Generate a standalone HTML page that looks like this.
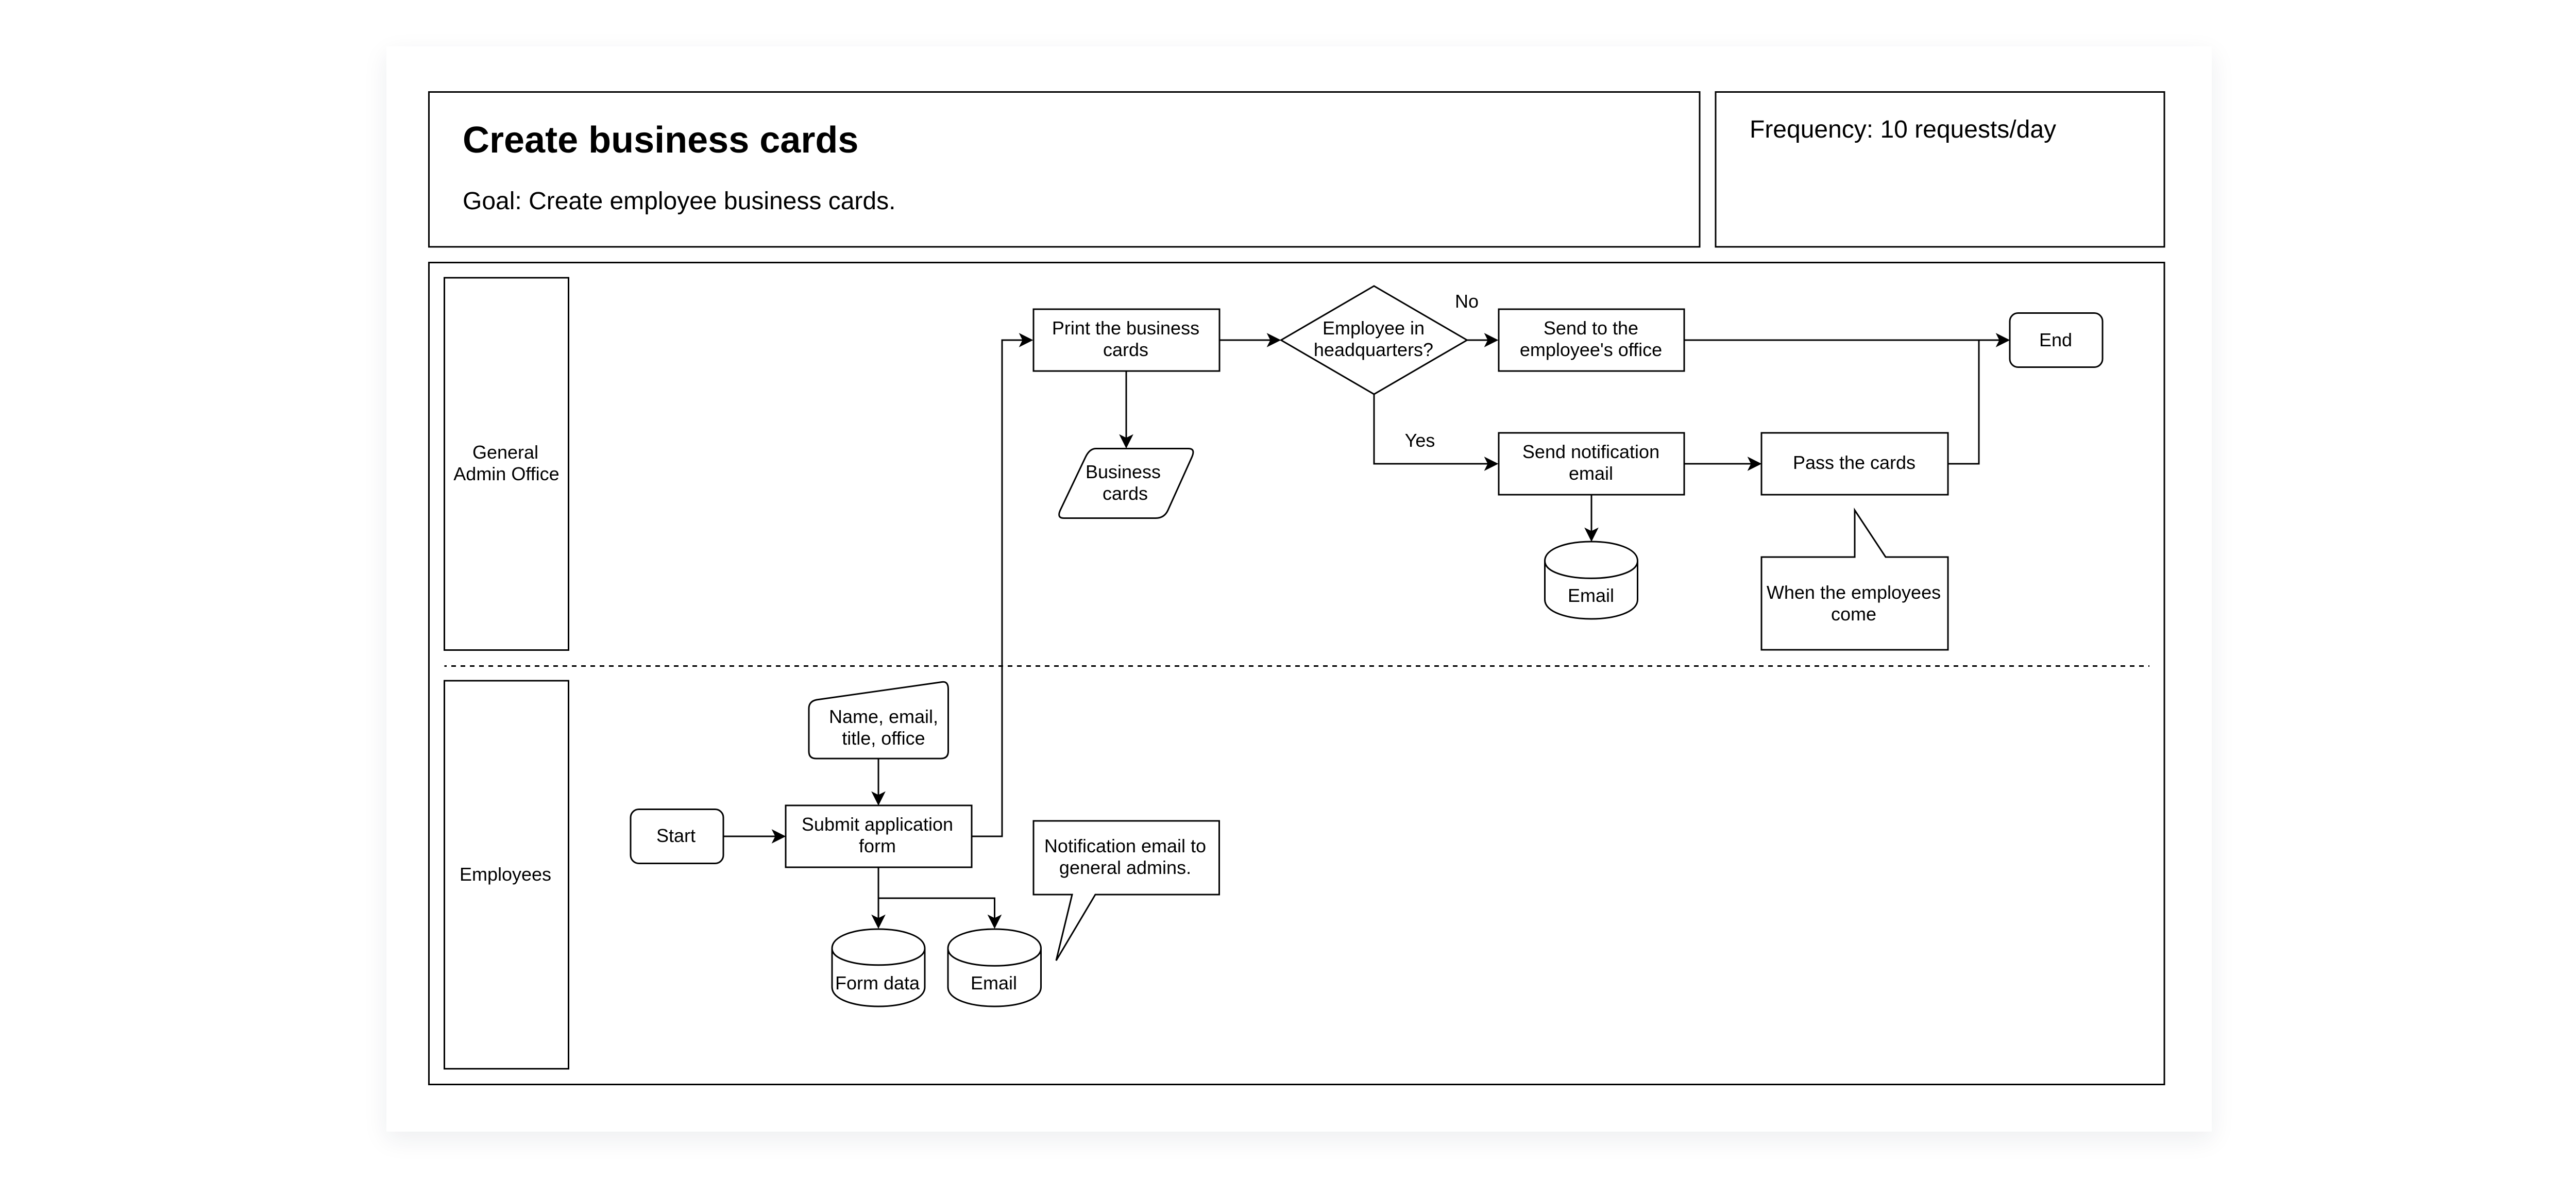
<!DOCTYPE html>
<html><head><meta charset="utf-8"><style>
html,body{margin:0;padding:0;background:#fff;width:5040px;height:2286px;overflow:hidden}
#card{position:absolute;left:750px;top:90px;width:3543px;height:2106px;background:#fff;box-shadow:0 15px 45px rgba(30,40,60,.08)}
svg{position:absolute;left:0;top:0}
text{font-family:"Liberation Sans",Arial,sans-serif;font-size:36px;fill:#000;text-anchor:middle}
.s{fill:#fff;stroke:#000;stroke-width:3}
.l{fill:none;stroke:#000;stroke-width:3}
.a{fill:#000;stroke:#000;stroke-width:3}
</style></head><body>
<div id="card"></div>
<svg width="5040" height="2286" viewBox="0 0 5040 2286">
<rect class="s" x="832.5" y="178.5" width="2466.5" height="300.5"/>
<rect class="s" x="3330" y="178.5" width="871" height="300.5"/>
<rect class="s" x="832.5" y="509.5" width="3368.5" height="1595"/>
<rect class="s" x="862.5" y="539" width="241" height="722.5"/>
<rect class="s" x="862.5" y="1321" width="241" height="753"/>
<path class="l" d="M862.5 1292.5H4172" stroke-dasharray="9 9" stroke-dashoffset="4.5"/>

<!-- connectors -->
<path class="l" d="M1404 1623H1522"/>
<path class="l" d="M1705 1473V1560"/>
<path class="l" d="M1885.500 1623H1945V660H2002"/>
<path class="l" d="M1705 1683V1799"/>
<path class="l" d="M1705 1743H1930.5V1799"/>
<path class="l" d="M2186 720V867"/>
<path class="l" d="M2367 660H2483"/>
<path class="l" d="M2847 660H2905"/>
<path class="l" d="M2667 765V900H2905"/>
<path class="l" d="M3269 660H3898"/>
<path class="l" d="M3269 900H3416"/>
<path class="l" d="M3089 960V1048"/>
<path class="l" d="M3781 900H3841V660"/>
<!-- arrowheads -->
<path class="a" d="M1522 1623l-21 10.500 5.250-10.500-5.250-10.500z"/>
<path class="a" d="M1705 1560l-10.500-21 10.500 5.250 10.500-5.250z"/>
<path class="a" d="M2002 660l-21 10.500 5.250-10.500-5.250-10.500z"/>
<path class="a" d="M1705 1799l-10.500-21 10.500 5.250 10.500-5.250z"/>
<path class="a" d="M1930.500 1799l-10.500-21 10.500 5.250 10.500-5.250z"/>
<path class="a" d="M2186 867l-10.500-21 10.500 5.250 10.500-5.250z"/>
<path class="a" d="M2483 660l-21 10.500 5.250-10.500-5.250-10.500z"/>
<path class="a" d="M2905 660l-21 10.500 5.250-10.500-5.250-10.500z"/>
<path class="a" d="M2905 900l-21 10.500 5.250-10.500-5.250-10.500z"/>
<path class="a" d="M3898 660l-21 10.500 5.250-10.500-5.250-10.500z"/>
<path class="a" d="M3416 900l-21 10.500 5.250-10.500-5.250-10.500z"/>
<path class="a" d="M3089 1048l-10.500-21 10.500 5.250 10.500-5.250z"/>

<!-- nodes -->
<rect class="s" x="2006" y="600" width="361" height="120"/>
<path class="s" d="M2667 555L2847.500 660L2667 765L2486.500 660Z"/>
<rect class="s" x="2909" y="600" width="360" height="120"/>
<rect class="s" x="2909" y="840" width="360" height="120"/>
<rect class="s" x="3419" y="840" width="362" height="120"/>
<rect class="s" x="3901" y="607.500" width="180" height="105" rx="16"/>
<rect class="s" x="1224" y="1570.500" width="180" height="105" rx="16"/>
<rect class="s" x="1525" y="1563" width="361" height="120"/>
<path class="s" d="M2127 870.500H2307Q2321 870.500 2313 888L2267 990Q2260 1005.500 2243 1005.500H2065Q2051 1005.500 2058 990L2107 887Q2115 870.500 2127 870.500Z"/>
<path class="s" d="M1570 1375Q1570 1361 1585 1358L1828 1323.500Q1840.500 1321.500 1840.500 1337V1458Q1840.500 1472 1826 1472H1584Q1570 1472 1570 1458Z"/>
<path class="s" d="M2998.500 1088.500C2998.500 1038.500 3178.500 1038.500 3178.500 1088.500V1163.500C3178.500 1213.500 2998.500 1213.500 2998.500 1163.500Z"/>
<path class="l" d="M2998.500 1088.500C2998.500 1133.500 3178.500 1133.500 3178.500 1088.500"/>
<path class="s" d="M1615 1840.500C1615 1790.500 1795 1790.500 1795 1840.500V1915.500C1795 1965.500 1615 1965.500 1615 1915.500Z"/>
<path class="l" d="M1615 1840.500C1615 1883.500 1795 1883.500 1795 1840.500"/>
<path class="s" d="M1840 1840.500C1840 1790.500 2020.500 1790.500 2020.500 1840.500V1915.500C2020.500 1965.500 1840 1965.500 1840 1915.500Z"/>
<path class="l" d="M1840 1840.500C1840 1885.500 2020.500 1885.500 2020.500 1840.500"/>
<path class="s" d="M3419 1081H3600V990L3660 1081H3781V1261H3419Z"/>
<path class="s" d="M2006 1593H2366.500V1736H2126L2050 1864L2081 1736H2006Z"/>

<!-- text -->
<text x="898" y="296" style="font-size:72px;font-weight:bold;text-anchor:start">Create business cards</text>
<text x="898" y="406" style="font-size:48px;text-anchor:start">Goal: Create employee business cards.</text>
<text x="3396" y="267" style="font-size:48px;text-anchor:start">Frequency: 10 requests/day</text>
<text x="981" y="890">General</text>
<text x="983" y="932">Admin Office</text>
<text x="981" y="1709">Employees</text>
<text x="2185" y="649">Print the business</text>
<text x="2185" y="691">cards</text>
<text x="2666" y="649">Employee in</text>
<text x="2666" y="691">headquarters?</text>
<text x="3088" y="649">Send to the</text>
<text x="3088" y="691">employee's office</text>
<text x="3088" y="889">Send notification</text>
<text x="3088" y="931">email</text>
<text x="3599" y="910">Pass the cards</text>
<text x="3990" y="672">End</text>
<text x="2847" y="597">No</text>
<text x="2756" y="867">Yes</text>
<text x="2180" y="928">Business</text>
<text x="2184" y="970">cards</text>
<text x="3088" y="1168">Email</text>
<text x="3598" y="1162">When the employees</text>
<text x="3598" y="1204">come</text>
<text x="1715" y="1403">Name, email,</text>
<text x="1715" y="1445">title, office</text>
<text x="1312" y="1634">Start</text>
<text x="1703" y="1612">Submit application</text>
<text x="1703" y="1654">form</text>
<text x="1703" y="1920">Form data</text>
<text x="1929" y="1920">Email</text>
<text x="2184" y="1654">Notification email to</text>
<text x="2184" y="1696">general admins.</text>
</svg>
</body></html>
